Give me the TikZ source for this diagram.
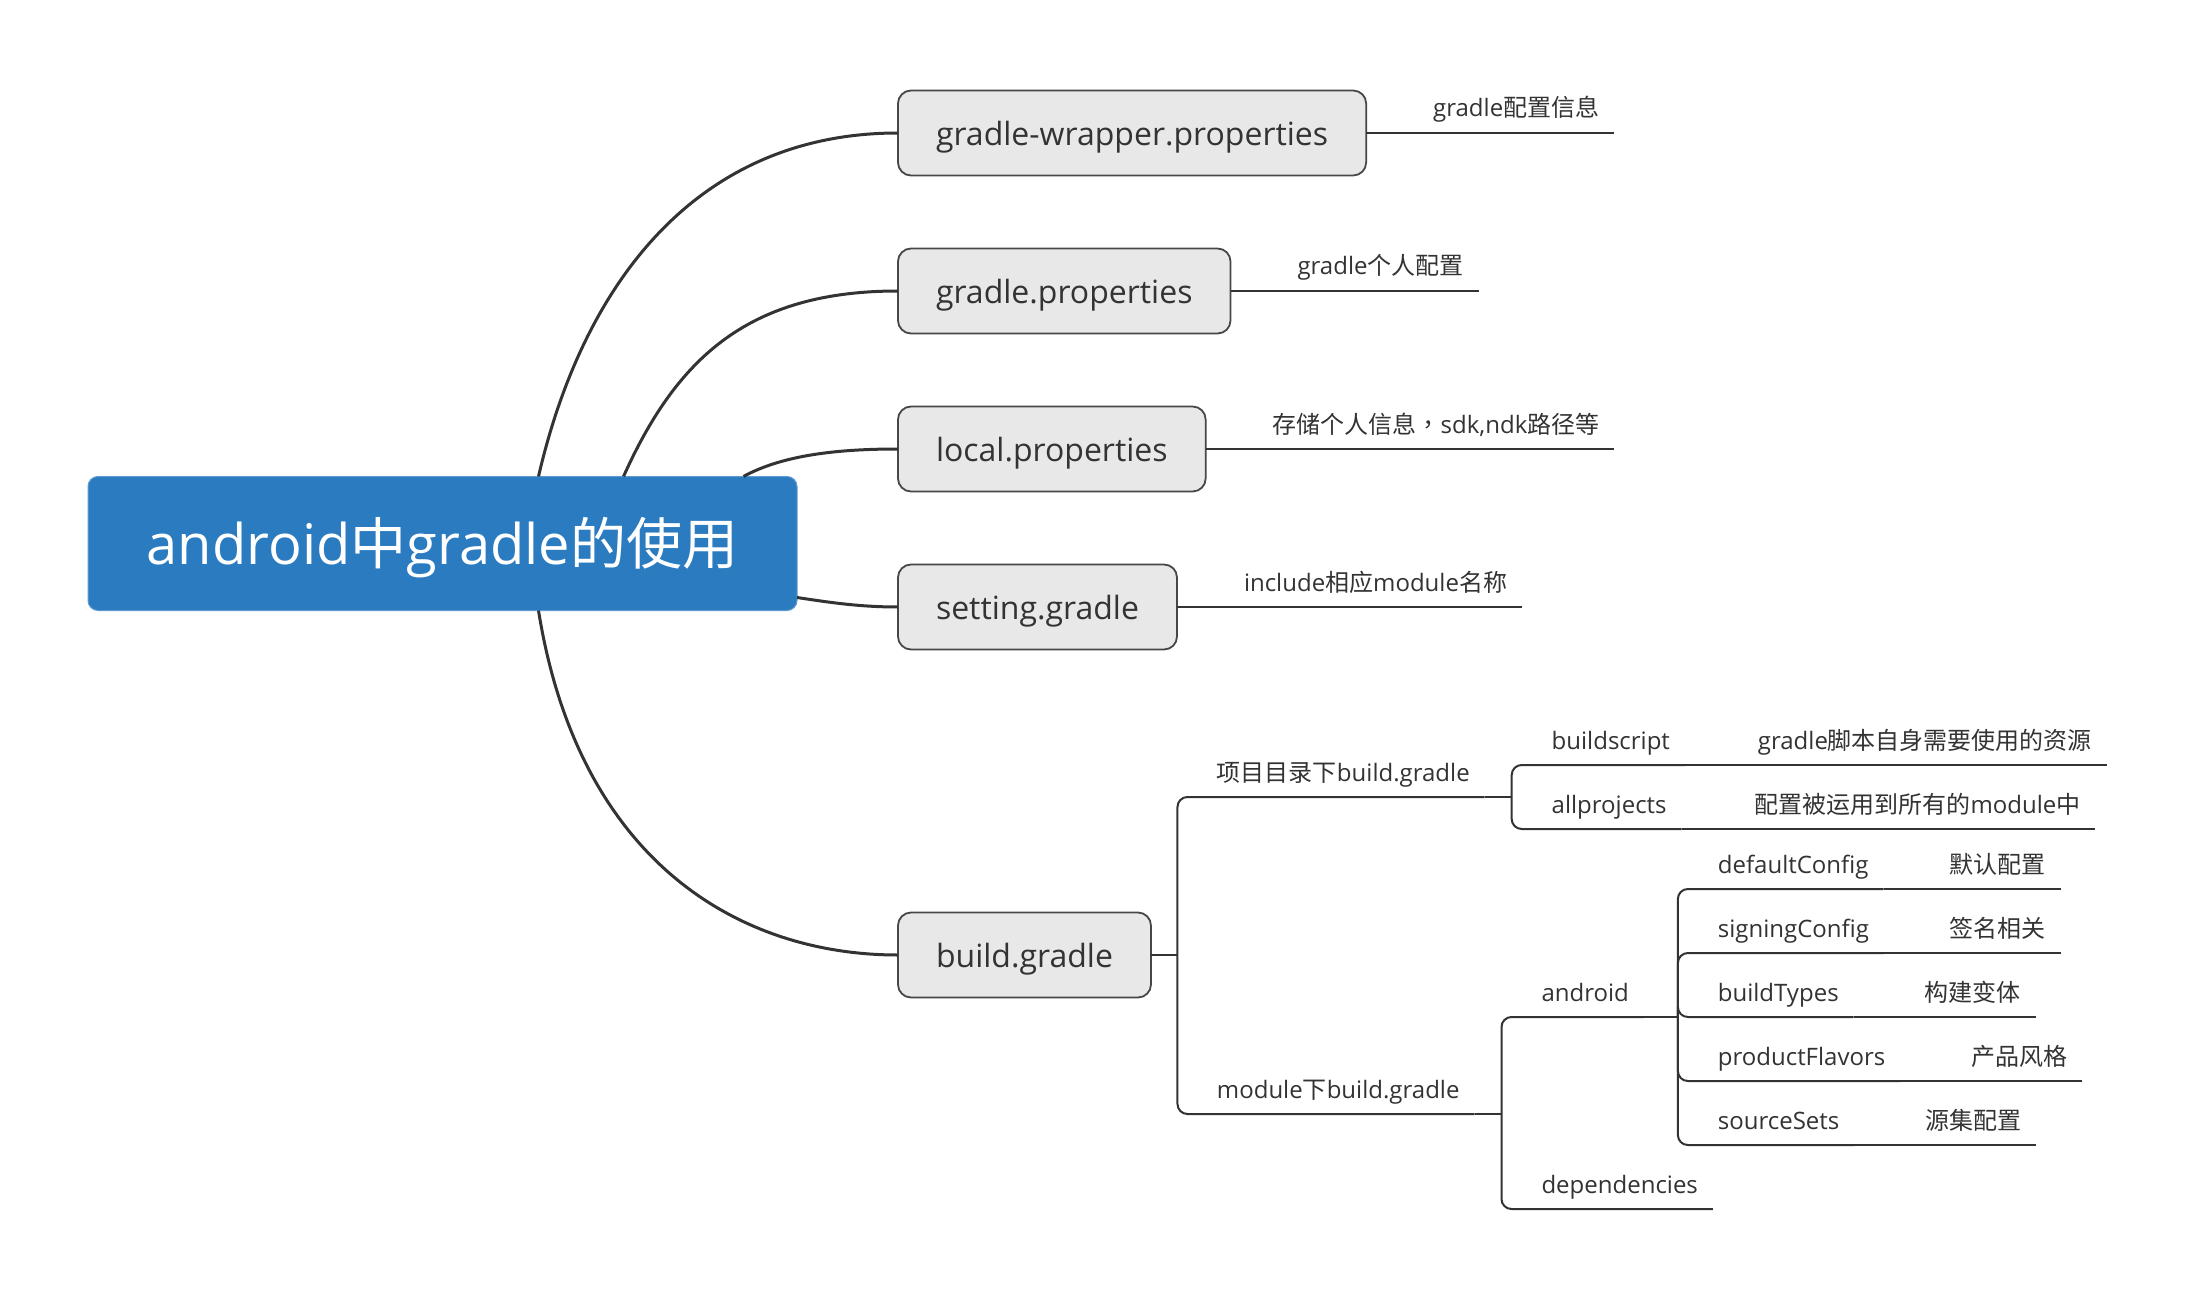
\documentclass[tikz,border=0pt]{standalone}
\usepackage{fontspec}
\setmainfont{Open Sans}
\newfontfamily\cjk{Noto Sans CJK SC}
\newfontfamily\cjktc{Noto Sans CJK TC}
\newcommand{\zh}[1]{{\cjk #1}}
\usetikzlibrary{positioning, calc}
\definecolor{rootblue}{HTML}{2B7BC1}
\definecolor{boxfill}{HTML}{E8E8E8}
\definecolor{boxline}{HTML}{474747}
\definecolor{txt}{HTML}{333333}
\definecolor{wire}{HTML}{333333}
\tikzstyle{rootbox} = [rectangle, rounded corners=10pt, fill=rootblue, draw=rootblue!75!white, line width=1pt, minimum width=709pt, minimum height=134pt, text=white, font=\fontsize{56}{60}\selectfont, text height=44pt, text depth=3pt, outer sep=0pt]
\tikzstyle{box} = [rectangle, rounded corners=13pt, fill=boxfill, draw=boxline, line width=1.8pt, minimum height=85pt, inner xsep=38pt, text=txt, font=\fontsize{32}{36}\selectfont, text height=28pt, text depth=3pt, outer sep=0pt, anchor=west]
\tikzstyle{lbl} = [inner xsep=15pt, inner ysep=16pt, text height=18pt, text depth=0pt, outer sep=0pt, text=txt, font=\fontsize{24}{28}\selectfont]
\tikzstyle{rootlink} = [draw=wire, line width=3pt]
\tikzstyle{branch} = [draw=wire, line width=2pt, rounded corners=10pt]
\tikzstyle{stub} = [draw=wire, line width=2.8pt]

\begin{document}
\begin{tikzpicture}[x=1pt, y=-1pt]

    \useasboundingbox[fill=white] (0, 0) rectangle (2195, 1297);

    \node (root) [rootbox] at (442.5, 543.5) {android\zh{中}gradle\zh{的使用}};

    \node (box1) [box] at (898, 133) {gradle-wrapper.properties};
    \node (box2) [box] at (898, 291) {gradle.properties};
    \node (box3) [box] at (898, 449) {local.properties};
    \node (box4) [box] at (898, 607) {setting.gradle};
    \node (box5) [box] at (898, 955) {build.gradle};

    \draw [rootlink] ([xshift=96pt]root.north) .. controls +(45, -195) and +(-200, 0) .. (box1.west);
    \draw [rootlink] ([xshift=181pt]root.north) .. controls +(53, -118) and +(-150, 0) .. (box2.west);
    \draw [rootlink] ([xshift=301pt]root.north) .. controls +(40, -22) and +(-58, 0) .. (box3.west);
    \draw [rootlink] ([yshift=-54pt]root.east) .. controls +(33, 5) and +(-38, 0) .. (box4.west);
    \draw [rootlink] ([xshift=96pt]root.south) .. controls +(40, 250) and +(-160, 0) .. (box5.west);

    % notes beside the first four files
    \node (info1) [lbl, right=52pt of box1.east, anchor=south west] {gradle\zh{配置信息}};
    \node (info2) [lbl, right=52pt of box2.east, anchor=south west] {gradle\zh{个人配置}};
    \node (info3) [lbl, right=52pt of box3.east, anchor=south west] {\zh{存储个人信息}{\cjktc ，}sdk,ndk\zh{路径等}};
    \node (info4) [lbl, right=52pt of box4.east, anchor=south west] {include\zh{相应}module\zh{名称}};

    \draw [branch] (box1.east) -- (info1.south east);
    \draw [branch] (box2.east) -- (info2.south east);
    \draw [branch] (box3.east) -- (info3.south east);
    \draw [branch] (box4.east) -- (info4.south east);

    % build.gradle
    \coordinate (f1) at ($(box5.east)+(26.5, 0)$);
    \node (proj) [lbl, anchor=south west] at ($(f1)+(24.5, -158)$) {\zh{项目目录下}build.gradle};
    \node (mod) [lbl, anchor=south west] at ($(f1)+(24.5, 159)$) {module\zh{下}build.gradle};

    \draw [stub] (box5.east) -- (f1);
    \draw [branch] (f1) |- (proj.south east);
    \draw [branch] (f1) |- (mod.south east);

    \coordinate (f2) at ($(proj.south east)+(27, 0)$);
    \node (bs) [lbl, anchor=south west] at ($(f2)+(25, -32)$) {buildscript};
    \node (ap) [lbl, anchor=south west] at ($(f2)+(25, 32)$) {allprojects};
    \node (bsd) [lbl, right=58pt of bs.south east, anchor=south west] {gradle\zh{脚本自身需要使用的资源}};
    \node (apd) [lbl, right=58pt of ap.south east, anchor=south west] {\zh{配置被运用到所有的}module\zh{中}};

    \draw [stub] (proj.south east) -- (f2);
    \draw [branch] (f2) |- (bs.south east);
    \draw [branch] (f2) |- (ap.south east);
    \draw [branch] (bs.south east) -- (bsd.south east);
    \draw [branch] (ap.south east) -- (apd.south east);

    \coordinate (f3) at ($(mod.south east)+(27, 0)$);
    \node (andr) [lbl, anchor=south west] at ($(f3)+(25, -97)$) {android};
    \node (dep) [lbl, anchor=south west] at ($(f3)+(25, 95)$) {dependencies};

    \draw [stub] (mod.south east) -- (f3);
    \draw [branch] (f3) |- (andr.south east);
    \draw [branch] (f3) |- (dep.south east);

    \coordinate (f4) at ($(andr.south east)+(34, 0)$);
    \node (dc) [lbl, anchor=south west] at ($(f4)+(25, -128)$) {defaultConfig};
    \node (sc) [lbl, anchor=south west] at ($(f4)+(25, -64)$) {signingConfig};
    \node (bt) [lbl, anchor=south west] at ($(f4)+(25, 0)$) {buildTypes};
    \node (pf) [lbl, anchor=south west] at ($(f4)+(25, 64)$) {productFlavors};
    \node (ss) [lbl, anchor=south west] at ($(f4)+(25, 128)$) {sourceSets};
    \node (dcd) [lbl, right=51pt of dc.south east, anchor=south west] {\zh{默认配置}};
    \node (scd) [lbl, right=51pt of sc.south east, anchor=south west] {\zh{签名相关}};
    \node (btd) [lbl, right=56pt of bt.south east, anchor=south west] {\zh{构建变体}};
    \node (pfd) [lbl, right=56pt of pf.south east, anchor=south west] {\zh{产品风格}};
    \node (ssd) [lbl, right=56pt of ss.south east, anchor=south west] {\zh{源集配置}};

    \draw [stub] (andr.south east) -- (f4);
    \draw [branch] (f4) |- (dc.south east);
    \draw [branch] (f4) |- (sc.south east);
    \draw [branch] (f4) |- (bt.south east);
    \draw [branch] (f4) |- (pf.south east);
    \draw [branch] (f4) |- (ss.south east);
    \draw [branch] (dc.south east) -- (dcd.south east);
    \draw [branch] (sc.south east) -- (scd.south east);
    \draw [branch] (bt.south east) -- (btd.south east);
    \draw [branch] (pf.south east) -- (pfd.south east);
    \draw [branch] (ss.south east) -- (ssd.south east);

\end{tikzpicture}
\end{document}
